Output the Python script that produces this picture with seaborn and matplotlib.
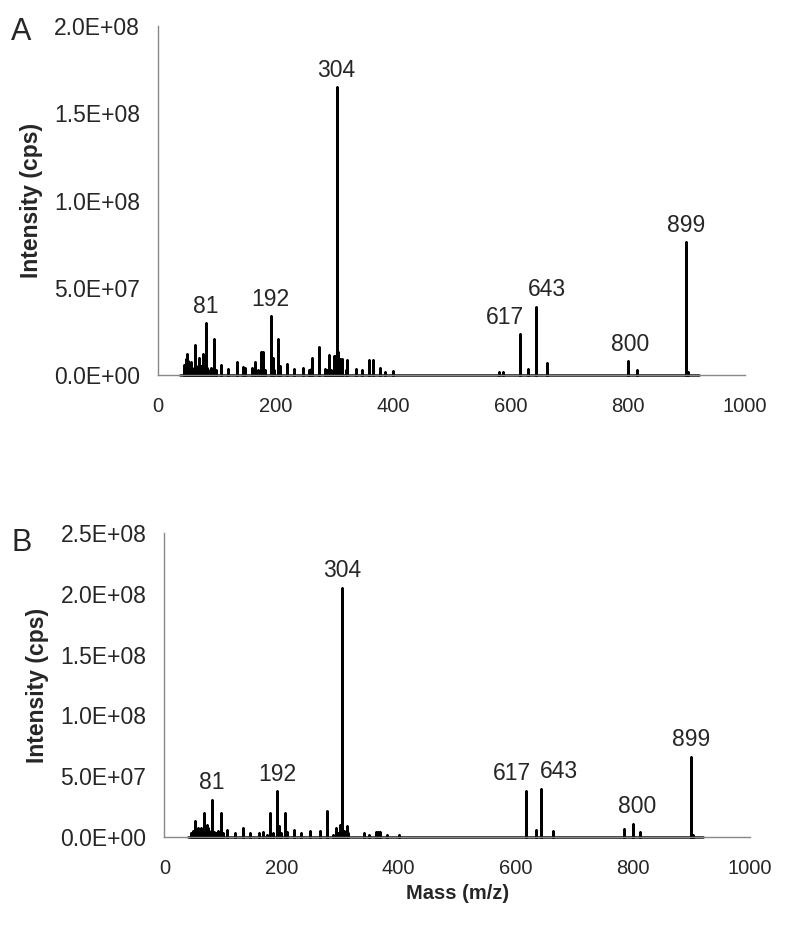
import numpy as np
import pandas as pd
import seaborn as sns
import matplotlib.pyplot as plt
from matplotlib.ticker import FuncFormatter

# peak lists (m/z, intensity in units of 1e7 cps)
a_mz = [45, 47, 49, 51, 53, 56, 58, 60, 63, 65, 67, 70, 72, 74, 76, 81, 83, 86, 88, 91,
        95, 98, 108, 120, 135, 145, 149, 160, 166, 170, 175, 179, 183, 192, 195, 198,
        205, 207, 220, 232, 247, 257, 260, 263, 275, 285, 288, 291, 294, 300, 302, 304,
        307, 310, 313, 320, 322, 337, 347, 359, 366, 378, 386, 400, 580, 588, 617, 630,
        643, 663, 800, 815, 899, 902]
a_int = [0.6, 0.9, 1.2, 0.8, 0.5, 0.75, 0.4, 0.3, 1.7, 0.5, 0.35, 1.0, 0.4, 0.5, 1.2, 2.97,
         0.4, 0.3, 0.25, 0.4, 2.05, 0.3, 0.56, 0.33, 0.75, 0.48, 0.4, 0.4, 0.75, 0.3, 1.3,
         1.3, 0.3, 3.36, 1.0, 0.3, 2.05, 0.5, 0.66, 0.33, 0.4, 0.3, 0.35, 0.96, 1.6, 0.35,
         0.3, 1.17, 0.3, 1.1, 1.1, 16.5, 1.3, 0.9, 0.9, 0.3, 0.86, 0.35, 0.3, 0.86, 0.86,
         0.4, 0.15, 0.25, 0.15, 0.15, 2.35, 0.35, 3.9, 0.72, 0.8, 0.3, 7.6, 0.2]
a_range = [37, 922]

b_mz = [45, 48, 51, 53, 55, 58, 60, 63, 66, 68, 70, 72, 74, 77, 81, 84, 88, 92, 96, 100,
        107, 121, 135, 146, 162, 169, 176, 181, 186, 192, 196, 199, 206, 210, 222, 234,
        249, 265, 277, 288, 293, 297, 300, 302, 304, 307, 311, 314, 340, 349, 361, 365,
        368, 380, 401, 617, 635, 643, 663, 785, 800, 812, 899, 902]
b_int = [0.3, 0.5, 0.35, 1.28, 0.5, 0.75, 0.6, 0.75, 0.5, 2.0, 0.6, 1.0, 0.7, 0.5, 3.07,
         0.4, 0.3, 0.5, 1.97, 0.3, 0.6, 0.3, 0.75, 0.3, 0.3, 0.4, 0.2, 1.97, 0.3, 3.75,
         0.9, 0.3, 1.97, 0.45, 0.6, 0.3, 0.5, 0.5, 2.1, 0.2, 0.75, 0.3, 1.0, 1.0, 20.5,
         0.5, 0.9, 0.3, 0.3, 0.2, 0.45, 0.45, 0.45, 0.15, 0.2, 3.8, 0.6, 3.95, 0.5, 0.66,
         1.1, 0.4, 6.6, 0.2]
b_range = [40, 920]

labels = [81, 192, 304, 617, 643, 800, 899]
a_label_dx = [0, 0, 0, -11, 8, 2, 0]
b_label_dx = [0, 0, 0, -10, 13, 3, 0]

sns.set_style("white")
plt.rcParams['font.family'] = ['Liberation Sans', 'DejaVu Sans']

fig = plt.figure(figsize=(8, 9.33), dpi=100)
ax_a = fig.add_axes([0.1975, 0.598, 0.734, 0.374])
ax_b = fig.add_axes([0.2055, 0.1029, 0.732, 0.3258])


def profile(mz, inten, rng):
    # stick spectrum as one continuous trace along the baseline
    xs, ys = [rng[0]], [0.0]
    for m, i in zip(mz, inten):
        xs += [m, m, m]
        ys += [0.0, i * 1e7, 0.0]
    xs.append(rng[1])
    ys.append(0.0)
    return pd.DataFrame({'mz': xs, 'intensity': ys})


def draw(ax, mz, inten, rng, ymax, dxs):
    df = profile(mz, inten, rng)
    sns.lineplot(data=df, x='mz', y='intensity', sort=False, estimator=None,
                 color='black', lw=1.8, ax=ax, clip_on=False)
    lookup = dict(zip(mz, inten))
    for lab, dx in zip(labels, dxs):
        ax.annotate(str(lab), (lab, lookup[lab] * 1e7), xytext=(dx, 4),
                    textcoords='offset points', ha='center', va='bottom', fontsize=16.5)
    ax.set_xlim(0, 1000)
    ax.set_ylim(0, ymax)
    ax.set_xticks(np.arange(0, 1001, 200))
    ax.set_yticks(np.arange(0, ymax + 1, 5e7))
    ax.yaxis.set_major_formatter(FuncFormatter(lambda v, p: f"{v:.1E}"))
    ax.tick_params(axis='y', length=4, width=1, color='#888888', pad=9, labelsize=16.5)
    ax.tick_params(axis='x', length=0, pad=16, labelsize=14.5)
    for s in ['top', 'right']:
        ax.spines[s].set_visible(False)
    for s in ['left', 'bottom']:
        ax.spines[s].set_color('#888888')
        ax.spines[s].set_linewidth(1)
    ax.set_xlabel('')
    ax.set_ylabel('Intensity (cps)', fontsize=16.5, fontweight='bold', labelpad=8)


draw(ax_a, a_mz, a_int, a_range, 2e8, a_label_dx)
draw(ax_b, b_mz, b_int, b_range, 2.5e8, b_label_dx)
ax_b.set_xlabel('Mass (m/z)', fontsize=14.5, fontweight='bold', labelpad=4)

fig.text(0.027, 0.966, 'A', fontsize=22, va='center', ha='center')
fig.text(0.027, 0.418, 'B', fontsize=22, va='center', ha='center')

fig.savefig('out.png', dpi=100)
